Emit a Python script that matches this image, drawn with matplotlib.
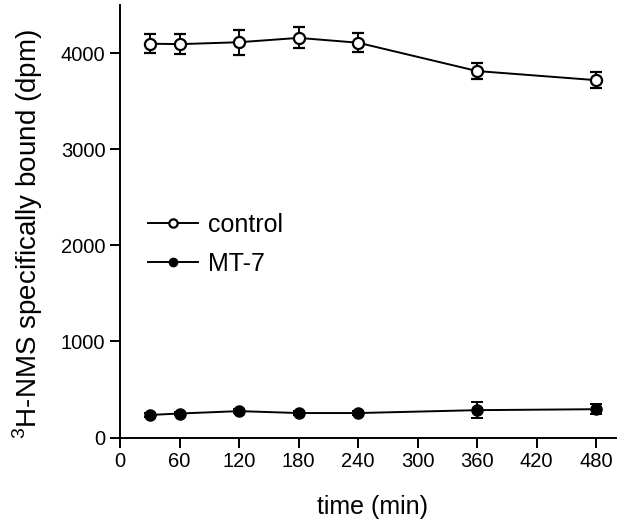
import matplotlib
matplotlib.use('Agg')
from matplotlib import pyplot as plt
import numpy as np

plt.rcParams['font.family'] = ['Liberation Sans', 'DejaVu Sans']
plt.rcParams['mathtext.fontset'] = 'custom'
plt.rcParams['mathtext.rm'] = 'Liberation Sans'

# dados
time_min = [30, 60, 120, 180, 240, 360, 480]
control = [4100, 4095, 4115, 4160, 4110, 3815, 3720]
control_err = [100, 105, 130, 110, 100, 80, 80]
mt7 = [235, 250, 275, 255, 255, 285, 295]
mt7_err = [20, 20, 20, 20, 20, 83, 52]

fig = plt.figure(figsize=(6.4, 5.24), dpi=100)
ax = fig.add_axes([0.1875, 0.165, 0.775, 0.825])

ax.errorbar(time_min, control, yerr=control_err, color='black', marker='o',
            markerfacecolor='white', markeredgecolor='black', markersize=8,
            markeredgewidth=1.6, linewidth=1.4, capsize=4, elinewidth=1.4,
            capthick=1.4, label='control')
ax.errorbar(time_min, mt7, yerr=mt7_err, color='black', marker='o',
            markerfacecolor='black', markeredgecolor='black', markersize=8,
            linewidth=1.4, capsize=4, elinewidth=1.4, capthick=1.4,
            label='MT-7')

ax.set_xlim(0, 500)
ax.set_ylim(0, 4500)
ax.set_xticks(np.arange(0, 481, 60))
ax.set_yticks(np.arange(0, 4001, 1000))
ax.spines['top'].set_visible(False)
ax.spines['right'].set_visible(False)
ax.spines['left'].set_linewidth(1.4)
ax.spines['bottom'].set_linewidth(1.4)
ax.tick_params(direction='out', length=7, width=1.4, labelsize=14.5)

ax.set_xlabel('time (min)', fontsize=18)
ax.xaxis.set_label_coords(0.51, -0.133)
ax.set_ylabel(r'$^{3}$H-NMS specifically bound (dpm)', fontsize=20)
ax.yaxis.set_label_coords(-0.151, 0.47)

handles, labels = ax.get_legend_handles_labels()
handles = [h[0] for h in handles]
ax.legend(handles, labels, loc='center left', bbox_to_anchor=(0.056, 0.447),
          frameon=False, fontsize=18, handlelength=2.0, handletextpad=0.4,
          labelspacing=0.6, markerscale=0.75, borderpad=0, borderaxespad=0)

plt.savefig('out.png', dpi=100)
